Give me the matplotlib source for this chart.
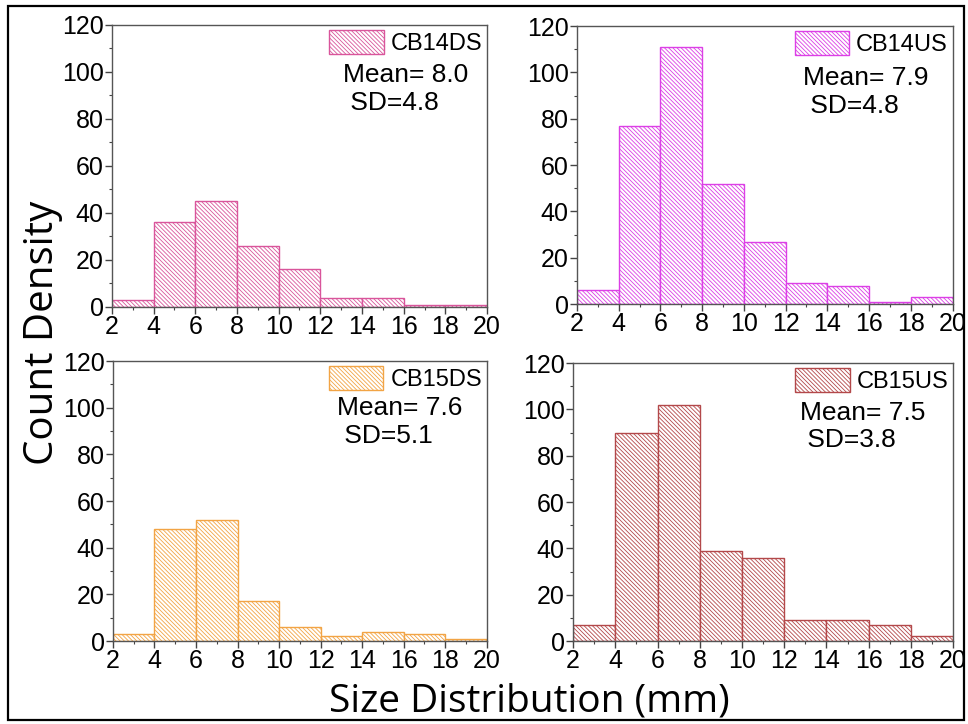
import matplotlib
matplotlib.use('Agg')
import matplotlib.pyplot as plt
from matplotlib.patches import Rectangle
from matplotlib.ticker import MultipleLocator
import numpy as np

# bin edges (mm) and counts per panel
bin_edges = [2, 4, 6, 8, 10, 12, 14, 16, 18, 20]
cb14ds = [3, 36, 45, 26, 16, 4, 4, 1, 1]
cb14us = [6, 77, 111, 52, 27, 9, 8, 1, 3]
cb15ds = [3, 48, 52, 17, 6, 2, 4, 3, 1]
cb15us = [7, 90, 102, 39, 36, 9, 9, 7, 2]

names = ['CB14DS', 'CB14US', 'CB15DS', 'CB15US']
means = ['8.0', '7.9', '7.6', '7.5']
sds = ['4.8', '4.8', '5.1', '3.8']
colors = ['#d9559b', '#dc3fe6', '#f2a445', '#b3484a']

plt.rcParams['font.family'] = ['Liberation Sans', 'DejaVu Sans']
plt.rcParams['hatch.linewidth'] = 0.6

fig = plt.figure(figsize=(9.68, 7.24), dpi=100)

# axes boxes [left, bottom, width, height] in figure fractions
boxes = [[0.1157, 0.576, 0.3874, 0.3895],
         [0.596, 0.580, 0.388, 0.384],
         [0.1167, 0.1146, 0.386, 0.3867],
         [0.592, 0.1146, 0.3926, 0.384]]
text_pos = [(0.616, 0.865), (0.601, 0.855), (0.599, 0.875), (0.597, 0.865)]

data = [cb14ds, cb14us, cb15ds, cb15us]
edges = np.array(bin_edges)

for i in range(4):
    ax = fig.add_axes(boxes[i])
    ax.bar(edges[:-1], data[i], width=np.diff(edges), align='edge',
           facecolor='white', edgecolor=colors[i], linewidth=1,
           hatch='\\' * 8, label=names[i])
    ax.set_xlim(2, 20)
    ax.set_ylim(0, 120)
    ax.xaxis.set_major_locator(MultipleLocator(2))
    ax.xaxis.set_minor_locator(MultipleLocator(1))
    ax.yaxis.set_major_locator(MultipleLocator(20))
    ax.yaxis.set_minor_locator(MultipleLocator(10))
    ax.tick_params(which='major', direction='out', length=5, width=1,
                   labelsize=18, pad=1, colors='#444444', labelcolor='black')
    ax.tick_params(which='minor', direction='out', length=2.5, width=0.8,
                   colors='#444444')
    for sp in ax.spines.values():
        sp.set_color('#555555')
        sp.set_linewidth(1)
    ax.legend(loc='upper right', frameon=False, fontsize=17,
              handlelength=2.3, handleheight=1.2, handletextpad=0.3,
              borderaxespad=0.1, borderpad=0.1)
    ax.text(text_pos[i][0], text_pos[i][1],
            'Mean= ' + means[i] + '\n SD=' + sds[i],
            transform=ax.transAxes, fontsize=19, va='top', ha='left',
            linespacing=1.2)

fig.text(0.044, 0.54, 'Count Density', rotation=90, fontsize=29,
         family=['Open Sans', 'DejaVu Sans'], ha='center', va='center')
fig.text(0.547, 0.017, 'Size Distribution (mm)', fontsize=28,
         family=['Open Sans', 'DejaVu Sans'], ha='center', va='baseline')

# frame round the whole figure
fig.patches.append(Rectangle((0.008, 0.006), 0.988, 0.986, fill=False,
                             edgecolor='black', linewidth=1.6,
                             transform=fig.transFigure, figure=fig))

plt.savefig('out.png', dpi=100)
